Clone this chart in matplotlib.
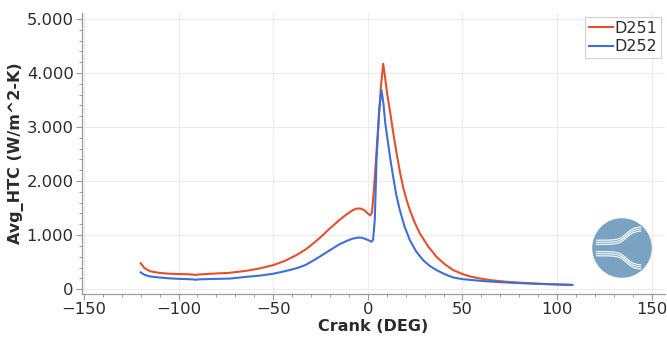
import matplotlib

matplotlib.use("Agg")
import matplotlib.pyplot as plt
import numpy as np
from matplotlib.patches import Circle
from matplotlib.ticker import FuncFormatter, MultipleLocator

# Crank angle (deg) / average heat transfer coefficient (W/m^2-K)
d251_crank = [
    -120, -118, -115, -110, -105, -100, -95, -92, -91, -90, -85, -80, -73,
    -64, -57, -50, -44, -38, -33, -29, -25, -20, -15, -11, -8, -6, -4, -2,
    0, 1.3, 2.2, 3.0, 3.7, 4.6, 5.5, 6.9, 8.1, 9.0, 10.2, 11.6, 13.4, 15.2,
    16.9, 18.6, 20.4, 22.2, 24.8, 27.5, 31.9, 36.3, 40.7, 45.1, 50, 53.9,
    59.2, 65, 72, 80, 90, 100, 108,
]
d251_htc = [
    480, 390, 330, 300, 285, 280, 275, 268, 262, 270, 280, 290, 302,
    340, 385, 444, 520, 625, 730, 840, 960, 1125, 1280, 1390, 1460, 1490,
    1492, 1465, 1400, 1365, 1420, 1750, 2080, 2550, 3006, 3746, 4170, 3950,
    3620, 3315, 2900, 2513, 2180, 1894, 1660, 1463, 1230, 1031, 790, 598,
    460, 352, 280, 235, 198, 165, 140, 120, 100, 88, 78,
]

d252_crank = [
    -120, -118, -115, -110, -105, -100, -95, -92, -91, -90, -85, -80, -73,
    -64, -57, -50, -44, -38, -33, -29, -25, -20, -15, -11, -8, -5, -3, -1,
    1, 2.0, 2.8, 3.7, 4.6, 6.0, 7.2, 8.2, 9.3, 10.7, 12, 13.4, 15, 16.9,
    19.4, 22.2, 25.5, 29.2, 32.7, 36.3, 40.7, 45.1, 50, 59.2, 65, 72, 80,
    90, 100, 108,
]
d252_htc = [
    310, 265, 235, 215, 200, 190, 185, 180, 172, 180, 185, 190, 195,
    228, 250, 285, 330, 383, 445, 525, 610, 722, 830, 895, 935, 955, 950,
    925, 895, 876, 920, 1300, 2389, 3315, 3685, 3450, 3050, 2698, 2380,
    2080, 1750, 1463, 1160, 907, 700, 537, 430, 352, 275, 216, 185, 155,
    140, 125, 112, 98, 86, 78,
]

RED = "#e5502c"
BLUE = "#3d6fd8"
AXIS_GREY = "#9a9a9a"
TEXT = "#2b2b2b"

plt.rcParams["font.family"] = ["DejaVu Sans"]

fig = plt.figure(figsize=(6.67, 3.38), dpi=100)
ax = fig.add_axes([82 / 667, 44 / 338, 583 / 667, 281 / 338])

ax.plot(d251_crank, d251_htc, color=RED, lw=1.5, label="D251", zorder=3)
ax.plot(d252_crank, d252_htc, color=BLUE, lw=1.5, label="D252", zorder=3)

ax.set_xlim(-151, 157)
ax.set_ylim(-90, 5110)
ax.xaxis.set_major_locator(MultipleLocator(50))
ax.xaxis.set_minor_locator(MultipleLocator(10))
ax.yaxis.set_major_locator(MultipleLocator(1000))
ax.yaxis.set_minor_locator(MultipleLocator(200))
ax.yaxis.set_major_formatter(
    FuncFormatter(lambda v, _: f"{int(round(v)):,}".replace(",", "."))
)

ax.grid(True, which="major", color="#ececec", lw=0.8, zorder=0)
for side in ("top", "right"):
    ax.spines[side].set_visible(False)
for side in ("left", "bottom"):
    ax.spines[side].set_color(AXIS_GREY)
    ax.spines[side].set_linewidth(0.9)

ax.tick_params(which="major", length=4, width=0.8, color=AXIS_GREY,
               labelsize=11.8, labelcolor=TEXT, pad=2)
ax.tick_params(which="minor", length=2.5, width=0.7, color=AXIS_GREY)

ax.set_xlabel("Crank (DEG)", fontsize=11.5, fontweight="bold", color=TEXT,
              labelpad=1)
ax.set_ylabel("Avg_HTC (W/m^2-K)", fontsize=11.5, fontweight="bold",
              color=TEXT, labelpad=2)

leg = ax.legend(loc="upper right", fontsize=11.5, frameon=True, fancybox=False,
                edgecolor="#c4c4c4", handlelength=1.5, handletextpad=0.1,
                borderpad=0.25, borderaxespad=0.25, labelspacing=0.2)
leg.get_frame().set_linewidth(0.8)
for txt in leg.get_texts():
    txt.set_color(TEXT)

# round badge with wave lines in the lower right corner
badge = fig.add_axes([(622 - 30) / 667, (338 - 248 - 30) / 338,
                      60 / 667, 60 / 338])
badge.set_xlim(-1, 1)
badge.set_ylim(-1, 1)
badge.set_aspect("equal")
badge.axis("off")
badge.add_patch(Circle((0, 0), 0.97, color="#7aa2c3"))
t = np.linspace(-0.85, 0.62, 80)
bend = 1 / (1 + np.exp(-(t - 0.15) * 8))
for k in range(3):
    off = 0.07 * k
    badge.plot(t, 0.12 + off + 0.45 * bend, color="white", lw=0.8)
    badge.plot(t, -0.12 - off - 0.45 * bend, color="white", lw=0.8)

fig.savefig("out.png", dpi=100)
